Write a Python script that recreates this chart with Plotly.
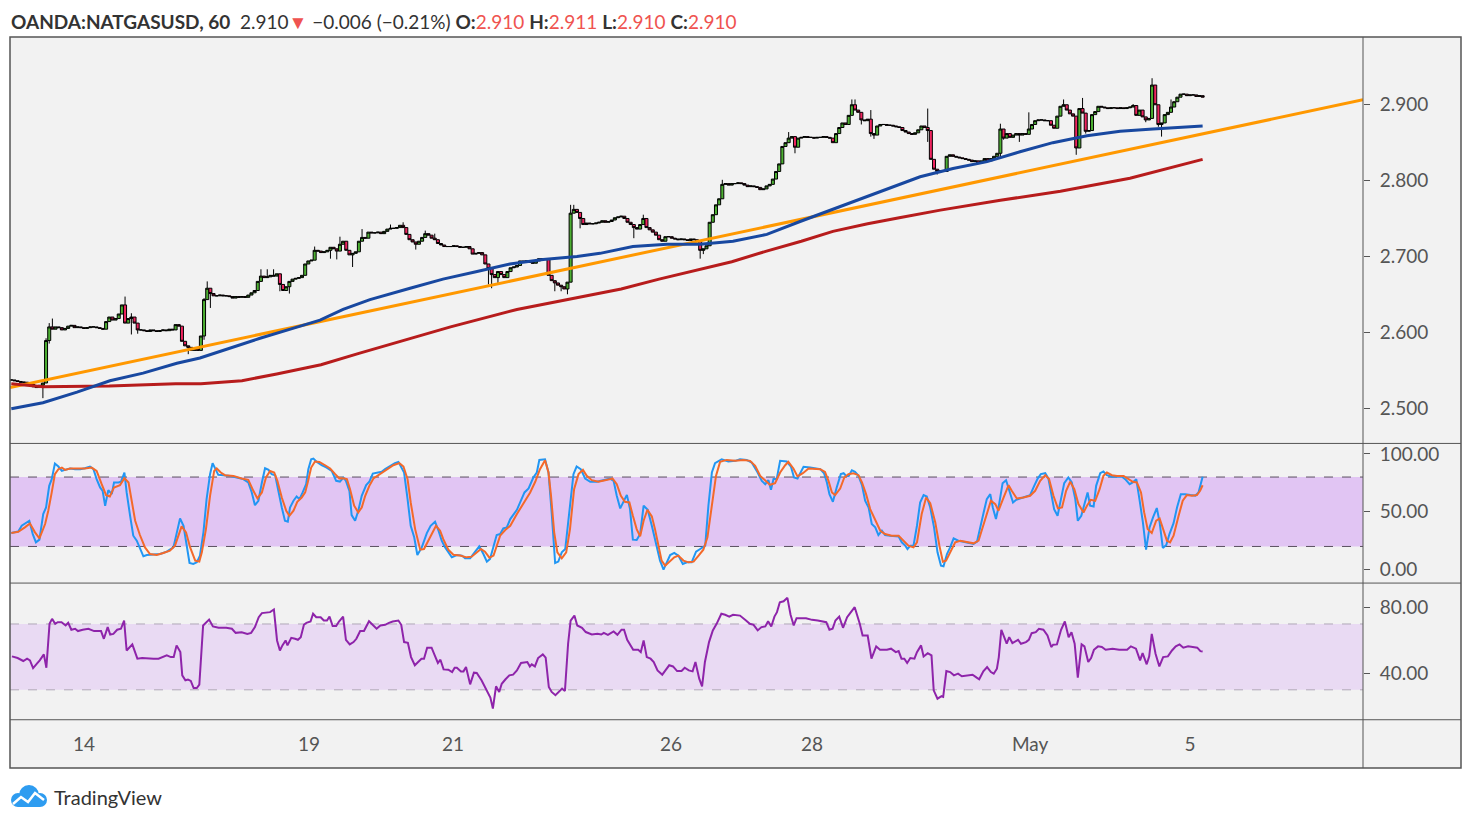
import plotly.graph_objects as go

W, H = 1471, 824
OFF = 8  # page body margin

# hourly closes of OANDA:NATGASUSD in thousandths, bar 0 = first bar on the chart
CLOSES = [
    2537, 2536, 2535, 2534, 2534, 2533, 2531, 2528, 2527, 2530,
    2533, 2589, 2607, 2604, 2607, 2606, 2603, 2605, 2608, 2609,
    2606, 2607, 2606, 2605, 2606, 2607, 2607, 2606, 2605, 2604,
    2614, 2620, 2616, 2618, 2624, 2636, 2612, 2618, 2620, 2612,
    2603, 2603, 2602, 2601, 2603, 2602, 2601, 2602, 2603, 2602,
    2604, 2603, 2610, 2608, 2588, 2582, 2580, 2576, 2578, 2576,
    2595, 2643, 2658, 2651, 2648, 2648, 2649, 2648, 2648, 2647,
    2645, 2647, 2646, 2647, 2646, 2649, 2652, 2655, 2667, 2674,
    2672, 2673, 2675, 2674, 2677, 2663, 2655, 2660, 2667, 2670,
    2671, 2672, 2675, 2690, 2694, 2695, 2708, 2707, 2705, 2706,
    2708, 2712, 2710, 2707, 2716, 2720, 2708, 2702, 2704, 2706,
    2720, 2725, 2724, 2732, 2731, 2731, 2732, 2730, 2733, 2736,
    2737, 2737, 2738, 2741, 2738, 2729, 2722, 2719, 2716, 2720,
    2725, 2730, 2728, 2724, 2722, 2717, 2715, 2713, 2713, 2713,
    2714, 2713, 2712, 2712, 2713, 2710, 2703, 2704, 2705, 2702,
    2690, 2684, 2676, 2672, 2680, 2676, 2672, 2680, 2685, 2686,
    2688, 2694, 2693, 2694, 2692, 2691, 2694, 2697, 2697, 2696,
    2675, 2668, 2665, 2662, 2660, 2657, 2666, 2757, 2762, 2758,
    2750, 2742, 2744, 2743, 2743, 2744, 2745, 2747, 2745, 2746,
    2748, 2751, 2752, 2753, 2750, 2745, 2742, 2738, 2736, 2742,
    2750, 2738, 2735, 2732, 2728, 2722, 2720, 2726, 2726, 2724,
    2723, 2722, 2723, 2722, 2721, 2723, 2722, 2720, 2708, 2710,
    2714, 2745, 2755, 2768, 2776, 2795, 2796, 2794, 2796, 2796,
    2797, 2796, 2794, 2792, 2793, 2792, 2791, 2788, 2789, 2793,
    2795, 2802, 2812, 2822, 2845, 2850, 2856, 2858, 2844, 2856,
    2857, 2858, 2857, 2857, 2856, 2857, 2857, 2858, 2857, 2856,
    2850, 2862, 2870, 2876, 2874, 2886, 2900, 2893, 2890, 2880,
    2879, 2881, 2862, 2860, 2872, 2874, 2874, 2873, 2873, 2872,
    2871, 2870, 2866, 2864, 2862, 2861, 2863, 2867, 2872, 2870,
    2866, 2828, 2815, 2812, 2813, 2812, 2832, 2834, 2832, 2831,
    2830, 2829, 2828, 2827, 2825, 2826, 2823, 2826, 2829, 2826,
    2829, 2832, 2836, 2868, 2856, 2862, 2857, 2860, 2862, 2860,
    2862, 2861, 2868, 2874, 2879, 2880, 2880, 2879, 2879, 2873,
    2869, 2885, 2898, 2900, 2893, 2888, 2885, 2843, 2895, 2889,
    2865, 2866, 2887, 2891, 2898, 2897, 2896, 2895, 2896, 2896,
    2895, 2896, 2895, 2896, 2897, 2899, 2886, 2893, 2884, 2880,
    2882, 2926, 2900, 2874, 2876, 2887, 2890, 2897, 2904, 2910,
    2914, 2914, 2912, 2913, 2913, 2911, 2912, 2910,
]

# visible wicks: bar -> (high, low)
WICKS = {
    10: (None, 2.513), 11: (2.592, None), 12: (2.612, 2.585), 13: (2.618, None),
    36: (2.647, None), 38: (2.625, 2.597), 40: (None, 2.598), 56: (None, 2.571),
    61: (2.645, 2.590), 62: (2.667, None), 63: (None, 2.632), 79: (2.683, None),
    81: (2.683, None), 83: (2.683, None), 85: (None, 2.654), 88: (None, 2.651),
    96: (2.713, None), 101: (None, 2.697), 103: (None, 2.696), 104: (2.726, None),
    108: (None, 2.686), 111: (2.736, None), 120: (2.742, None), 124: (2.745, None),
    128: (None, 2.709), 131: (2.734, None), 134: (2.730, None), 151: (None, 2.663),
    152: (None, 2.658), 154: (None, 2.665), 172: (None, 2.654), 174: (None, 2.654),
    176: (None, 2.650), 177: (2.768, None), 178: (2.768, None), 180: (None, 2.737),
    197: (None, 2.724), 200: (2.755, None), 218: (None, 2.697), 219: (None, 2.703),
    225: (2.801, None), 246: (2.864, None), 248: (None, 2.836), 266: (2.907, None),
    267: (2.907, None), 269: (None, 2.874), 272: (2.893, 2.858), 273: (None, 2.855),
    290: (2.895, 2.851), 293: (None, 2.808), 313: (2.875, 2.830), 314: (None, 2.854),
    319: (None, 2.851), 322: (2.890, None), 333: (2.907, None), 337: (None, 2.834),
    339: (2.909, None), 340: (None, 2.862), 355: (2.901, None), 359: (None, 2.877),
    361: (2.935, None), 363: (None, 2.871), 364: (None, 2.858), 367: (2.907, None),
}

# moving averages and trend line, (bar, price)
MA_BLUE = [
    (0, 2.499), (10, 2.507), (20.8, 2.521), (31.2, 2.536), (41.7, 2.546), (52.4, 2.559),
    (59.7, 2.566), (68.3, 2.578), (78.7, 2.592), (89.1, 2.605), (97.7, 2.616), (105, 2.630),
    (113.5, 2.643), (126.2, 2.658), (136.6, 2.670), (147.4, 2.680), (157.8, 2.690),
    (168.3, 2.696), (179, 2.700), (186.3, 2.704), (196.7, 2.713), (207.5, 2.716),
    (218, 2.716), (228.4, 2.720), (239.1, 2.729), (249.6, 2.746), (260, 2.762),
    (270.8, 2.779), (281.2, 2.795), (287.6, 2.805), (298, 2.816), (308.8, 2.825),
    (319.2, 2.838), (329.6, 2.850), (340.4, 2.859), (350.9, 2.865), (361.3, 2.868), (377, 2.872),
]
MA_RED = [
    (0, 2.532), (10, 2.528), (31, 2.529), (52, 2.532), (60, 2.532), (73, 2.536), (84, 2.545),
    (98, 2.557), (110, 2.572), (123, 2.588), (139, 2.607), (160, 2.630), (179, 2.645),
    (193, 2.657), (205, 2.670), (218, 2.683), (228, 2.693), (239, 2.707), (250, 2.720),
    (260, 2.733), (271, 2.743), (281, 2.751), (294, 2.761), (313, 2.774), (332, 2.786),
    (354, 2.803), (377, 2.828),
]
TREND = [(-0.41, 2.527), (427.75, 2.9066)]

# stochastic RSI %K and %D, (bar, value)
STOCH_K = [
    (0, 31.6), (1.2, 32.7), (2.2, 33.0), (3.3, 37.9), (4.3, 39.4), (5.7, 42.2), (6.8, 30.7), (7.8, 23.6), (8.9, 25.9), (10.1, 48.0),
    (11.0, 53.7), (12.0, 72.4), (12.8, 78.2), (13.8, 91.7), (14.9, 89.1), (16.0, 85.3), (17.0, 86.2), (18.6, 87.4), (20.2, 86.8), (21.8, 86.8),
    (23.3, 87.6), (24.9, 89.1), (26.0, 86.8), (27.0, 78.2), (28.1, 71.0), (28.9, 68.1), (29.7, 55.2), (30.7, 68.7), (31.8, 65.2), (32.5, 75.3),
    (33.9, 75.3), (34.7, 75.9), (35.8, 83.9), (36.5, 66.7), (37.6, 46.5), (38.6, 29.3), (39.7, 25.0), (40.7, 19.2), (41.8, 11.5), (42.9, 12.6),
    (45.0, 12.9), (47.1, 13.5), (49.2, 15.5), (51.3, 19.2), (52.4, 32.2), (53.4, 44.2), (54.5, 37.9), (55.5, 20.7), (56.4, 5.7), (57.6, 4.9),
    (58.7, 6.3), (59.7, 12.1), (60.8, 32.2), (61.8, 60.9), (62.9, 82.5), (63.7, 92.0), (64.5, 86.8), (65.5, 81.9), (67.1, 81.6), (69.2, 81.0),
    (71.3, 79.6), (73.4, 78.2), (75.0, 75.3), (76.1, 66.7), (77.1, 55.7), (78.2, 59.5), (79.3, 75.3), (80.3, 87.6), (81.4, 86.2), (82.4, 82.5),
    (83.5, 81.6), (84.5, 66.7), (85.6, 53.7), (86.6, 42.2), (87.5, 41.4), (88.2, 53.7), (89.3, 59.5), (90.3, 63.2), (91.2, 60.9), (92.2, 66.7),
    (93.3, 73.8), (94.0, 86.8), (94.9, 95.4), (95.6, 96.0), (96.7, 93.1), (98.2, 90.2), (99.8, 88.2), (101.4, 85.3), (102.8, 76.7), (104.0, 76.1),
    (105.1, 79.6), (105.9, 76.7), (107.0, 68.1), (107.7, 47.1), (108.8, 42.2), (109.8, 50.9), (110.9, 63.8), (112.3, 73.0), (113.3, 75.9), (114.4, 83.0),
    (115.6, 83.9), (117.2, 84.5), (118.3, 86.8), (119.9, 89.7), (121.4, 92.0), (122.5, 93.1), (123.2, 89.7), (124.3, 83.9), (125.4, 60.9), (126.4, 37.9),
    (127.5, 27.9), (128.5, 12.6), (129.9, 19.2), (131.5, 31.6), (132.7, 37.9), (134.1, 41.4), (135.2, 33.6), (136.2, 25.0), (137.3, 19.2), (138.3, 15.5),
    (139.4, 10.6), (141.0, 12.6), (142.6, 12.1), (143.6, 9.8), (145.2, 9.8), (146.8, 15.5), (148.1, 20.1), (149.4, 13.5), (150.5, 6.9), (151.5, 9.2),
    (152.6, 19.2), (153.6, 29.9), (154.7, 30.7), (155.7, 35.6), (156.8, 36.5), (157.9, 43.7), (160.0, 51.7), (161.0, 58.0), (162.4, 66.7), (163.7, 70.1),
    (165.2, 79.6), (166.3, 83.9), (167.1, 94.8), (168.9, 95.4), (170.0, 83.9), (171.0, 49.4), (172.1, 5.7), (173.1, 6.9), (174.2, 14.9), (175.3, 17.8),
    (176.8, 55.2), (177.9, 82.5), (178.9, 89.1), (180.2, 86.8), (181.6, 78.7), (183.2, 75.9), (185.3, 75.9), (187.4, 77.3), (189.5, 78.7), (190.6, 76.7),
    (191.6, 63.8), (192.7, 52.9), (193.7, 58.0), (194.8, 64.6), (195.8, 52.3), (196.7, 25.9), (197.9, 25.6), (199.0, 30.7), (200.1, 55.2), (201.4, 51.7),
    (202.7, 37.9), (204.3, 20.7), (205.3, 7.8), (206.4, 0.0), (207.4, 6.3), (208.5, 12.6), (209.8, 14.4), (211.1, 12.1), (212.5, 4.9), (213.8, 6.3),
    (215.3, 6.3), (216.7, 15.5), (218.0, 17.8), (219.6, 20.7), (220.6, 55.2), (221.7, 83.9), (222.7, 92.0), (224.8, 95.4), (226.9, 93.4), (229.1, 94.0),
    (230.6, 95.4), (232.7, 94.8), (234.3, 92.5), (235.9, 85.3), (237.5, 76.7), (238.6, 73.8), (239.6, 77.3), (240.4, 69.0), (241.2, 78.2), (242.2, 78.2),
    (243.3, 94.0), (245.4, 93.4), (246.7, 89.1), (247.7, 79.6), (248.8, 78.7), (250.7, 88.8), (252.8, 88.2), (256.0, 86.8), (257.2, 83.3), (258.1, 75.3),
    (258.9, 65.2), (260.0, 58.6), (261.2, 71.0), (262.5, 82.5), (263.4, 83.3), (264.2, 81.0), (265.0, 81.0), (266.0, 85.9), (267.0, 84.5), (268.1, 81.0),
    (269.2, 73.0), (270.2, 59.5), (271.3, 53.7), (272.3, 39.4), (273.4, 36.5), (274.4, 29.9), (275.5, 33.6), (276.5, 29.9), (278.1, 29.3), (279.7, 29.3),
    (280.8, 28.7), (281.8, 23.6), (282.9, 20.7), (283.6, 17.8), (284.5, 20.7), (285.5, 20.7), (286.6, 37.9), (287.6, 58.0), (288.7, 64.4), (289.7, 63.2),
    (290.8, 53.7), (292.0, 36.5), (293.1, 14.9), (294.2, 3.4), (295.0, 2.9), (296.1, 13.5), (297.1, 19.2), (298.2, 27.0), (299.7, 25.0), (301.3, 24.1),
    (302.9, 23.0), (304.5, 22.1), (305.6, 24.1), (306.6, 35.0), (307.7, 49.4), (308.7, 60.9), (309.8, 65.2), (310.6, 53.7), (311.6, 43.7), (312.6, 56.6),
    (313.7, 74.7), (314.8, 77.3), (315.9, 68.1), (317.0, 58.0), (318.0, 60.3), (319.3, 61.5), (320.8, 62.3), (322.4, 64.4), (323.7, 72.4), (324.8, 78.7),
    (325.8, 82.5), (327.2, 83.3), (328.2, 78.7), (329.0, 66.7), (330.0, 52.3), (331.1, 46.5), (332.1, 60.9), (333.2, 74.7), (334.5, 79.6), (335.6, 75.3),
    (336.7, 60.9), (337.5, 42.2), (338.6, 46.5), (339.5, 56.6), (340.6, 66.7), (341.4, 55.2), (342.5, 54.6), (343.3, 72.4), (344.6, 83.3), (345.6, 84.8),
    (346.7, 81.6), (348.3, 80.2), (349.9, 80.5), (351.4, 80.5), (352.5, 78.2), (353.9, 73.8), (354.9, 75.3), (356.0, 78.2), (357.0, 60.9), (358.1, 40.8),
    (359.1, 17.2), (360.2, 36.5), (361.3, 45.1), (362.5, 53.2), (363.4, 40.8), (364.4, 18.7), (365.5, 21.3), (366.5, 30.7), (367.8, 40.2), (368.9, 53.7),
    (370.1, 65.2), (371.5, 65.2), (373.1, 64.4), (374.7, 63.8), (375.7, 66.7), (376.4, 73.8), (377.0, 80.2),
]
STOCH_D = [
    (0, 31.6), (2.2, 32.7), (4.3, 36.5), (5.9, 39.9), (7.5, 32.2), (8.9, 27.0), (10.7, 39.4), (11.7, 50.9), (12.8, 66.7), (13.8, 82.5),
    (14.9, 86.8), (16.0, 88.2), (17.0, 86.2), (18.6, 87.4), (20.7, 87.4), (23.3, 87.4), (25.4, 88.2), (27.0, 85.3), (28.6, 73.8), (30.0, 64.4),
    (31.2, 63.2), (32.5, 71.0), (34.4, 73.0), (35.8, 79.0), (37.1, 75.3), (38.1, 60.9), (39.2, 42.2), (40.7, 29.9), (42.3, 19.2), (43.9, 13.5),
    (46.0, 12.6), (48.1, 14.4), (50.2, 16.4), (51.8, 20.7), (52.9, 29.3), (53.9, 37.3), (55.3, 32.2), (56.6, 19.2), (58.2, 7.8), (59.5, 6.9),
    (60.3, 14.9), (61.6, 35.0), (62.9, 63.8), (64.2, 85.3), (65.0, 87.4), (66.3, 83.9), (67.6, 81.6), (70.3, 81.0), (72.9, 78.7), (75.0, 77.6),
    (76.6, 68.1), (77.9, 61.5), (79.3, 66.7), (80.6, 79.6), (81.9, 85.3), (83.2, 83.9), (84.2, 76.7), (85.6, 62.3), (87.0, 50.9), (88.0, 46.5),
    (89.3, 50.9), (90.5, 58.6), (91.9, 62.3), (93.0, 66.7), (93.8, 75.3), (94.9, 88.2), (96.1, 93.4), (97.5, 93.1), (99.3, 90.2), (100.9, 87.4),
    (102.5, 82.5), (103.8, 78.7), (105.1, 79.0), (106.2, 78.2), (107.2, 69.5), (108.5, 55.2), (109.8, 49.4), (110.9, 53.7), (112.0, 63.8), (113.3, 72.4),
    (114.6, 78.7), (116.7, 82.5), (118.8, 86.2), (120.9, 90.2), (122.8, 92.0), (124.1, 89.1), (125.4, 78.2), (126.4, 58.0), (127.8, 35.0), (128.8, 22.1),
    (129.4, 17.2), (130.6, 17.8), (132.0, 25.0), (133.1, 31.6), (134.4, 37.9), (135.7, 33.6), (136.7, 26.4), (138.3, 17.2), (139.9, 12.9), (142.0, 12.1),
    (144.1, 10.6), (145.7, 11.2), (147.3, 14.9), (148.6, 17.8), (149.9, 15.5), (151.3, 10.3), (152.6, 12.1), (153.6, 20.7), (154.7, 29.3), (156.3, 34.2),
    (157.9, 37.9), (160.0, 48.0), (162.1, 57.5), (164.2, 66.7), (165.8, 75.9), (167.3, 86.8), (168.9, 94.5), (170.0, 83.9), (170.8, 63.8), (171.8, 32.2),
    (172.8, 14.9), (174.2, 9.8), (175.6, 14.9), (176.8, 35.0), (178.1, 69.5), (179.5, 82.5), (180.9, 86.2), (182.1, 81.0), (183.7, 77.3), (185.8, 75.9),
    (187.9, 77.3), (190.3, 78.7), (191.6, 73.8), (192.9, 63.8), (194.2, 58.6), (195.6, 58.0), (196.7, 46.5), (197.9, 35.0), (199.0, 28.7), (200.1, 42.2),
    (201.3, 51.7), (202.7, 46.0), (203.7, 35.0), (204.8, 20.7), (205.8, 7.8), (206.9, 3.4), (208.3, 6.9), (209.8, 10.6), (211.1, 12.1), (212.7, 7.8),
    (214.3, 6.3), (215.9, 6.9), (217.5, 12.1), (219.0, 17.2), (220.3, 27.9), (221.7, 55.2), (223.0, 81.0), (224.3, 93.1), (226.4, 94.8), (229.1, 94.0),
    (231.7, 94.8), (233.8, 94.0), (235.4, 89.7), (237.0, 81.0), (238.9, 76.7), (240.1, 73.3), (241.7, 74.7), (243.3, 83.9), (244.9, 90.2), (245.9, 93.1),
    (247.5, 87.4), (248.8, 80.5), (250.5, 83.3), (252.3, 87.4), (256.0, 86.8), (257.5, 84.5), (258.6, 76.7), (259.7, 66.7), (260.7, 64.4), (262.3, 70.1),
    (263.6, 79.6), (264.9, 82.5), (266.5, 83.3), (268.1, 81.6), (269.2, 75.3), (270.5, 65.2), (271.8, 52.3), (273.4, 42.2), (275.0, 33.6), (276.5, 30.7),
    (278.6, 29.3), (280.8, 29.3), (282.3, 25.0), (283.9, 20.7), (285.5, 19.2), (286.6, 23.6), (288.1, 48.0), (289.5, 62.3), (290.8, 57.5), (292.4, 40.8),
    (293.7, 20.7), (294.8, 6.9), (295.8, 7.8), (297.1, 14.9), (298.7, 23.6), (300.3, 25.0), (302.4, 23.6), (304.5, 22.7), (306.1, 25.0), (307.4, 36.5),
    (308.7, 48.0), (310.0, 59.5), (311.4, 56.6), (312.4, 50.9), (314.0, 62.3), (315.6, 73.0), (316.6, 68.1), (318.2, 61.5), (320.3, 62.3), (322.4, 63.8),
    (324.0, 68.1), (325.6, 76.7), (327.2, 81.6), (328.4, 78.2), (329.8, 63.8), (331.2, 52.9), (332.5, 53.7), (333.8, 68.1), (335.1, 75.9), (336.4, 69.5),
    (337.7, 56.6), (339.3, 49.4), (340.4, 55.2), (341.6, 60.3), (343.0, 59.5), (344.4, 69.5), (345.6, 81.0), (346.7, 83.9), (348.3, 81.6), (349.9, 81.0),
    (352.0, 81.0), (353.6, 78.2), (354.9, 75.9), (356.2, 75.3), (357.5, 66.7), (358.5, 49.4), (359.6, 35.0), (360.9, 31.6), (362.3, 42.2), (363.4, 44.2),
    (364.4, 35.0), (365.7, 25.0), (366.7, 23.6), (367.8, 29.3), (369.4, 46.5), (370.7, 59.5), (372.0, 64.4), (373.6, 63.8), (375.2, 64.4), (376.2, 68.1),
    (377.0, 72.9),
]

# RSI, (bar, value)
RSI = [
    (0.2, 50.3), (2.0, 49.3), (3.8, 47.5), (5.0, 48.9), (5.9, 47.9), (6.9, 43.2), (8.1, 45.9), (9.0, 47.9), (10.3, 51.5), (11.1, 43.4),
    (12.1, 70.1), (12.9, 73.1), (13.9, 70.1), (14.7, 71.1), (15.9, 71.1), (17.2, 69.1), (18.0, 70.7), (19.0, 66.5), (20.2, 67.1), (21.1, 65.7),
    (22.6, 66.5), (24.4, 67.1), (26.2, 65.7), (28.4, 65.7), (29.3, 61.0), (30.5, 68.1), (31.3, 63.6), (32.3, 64.0), (33.5, 66.5), (34.7, 67.1),
    (35.7, 72.1), (36.5, 53.9), (38.3, 57.6), (39.9, 48.9), (41.4, 49.3), (43.2, 48.9), (45.0, 48.9), (46.6, 48.9), (48.0, 49.9), (49.2, 50.9),
    (50.5, 49.9), (51.4, 49.9), (52.3, 57.0), (53.5, 52.9), (54.1, 38.8), (55.1, 35.8), (55.9, 36.2), (56.8, 35.4), (57.7, 31.1), (58.7, 31.1),
    (59.5, 33.1), (60.7, 69.1), (62.6, 72.7), (63.8, 68.5), (65.6, 67.7), (68.0, 67.7), (69.8, 67.1), (71.0, 64.6), (72.9, 65.0), (74.7, 64.0),
    (75.9, 64.6), (77.1, 68.1), (78.3, 74.1), (79.3, 76.6), (81.9, 77.2), (83.1, 78.8), (84.1, 60.0), (85.0, 53.9), (85.8, 57.0), (86.8, 60.0),
    (87.4, 57.0), (88.6, 61.6), (89.8, 61.0), (90.7, 60.4), (91.6, 62.0), (92.6, 69.5), (93.4, 70.7), (94.7, 71.5), (95.5, 76.2), (96.5, 74.1),
    (97.9, 74.1), (98.9, 72.1), (99.9, 72.1), (100.7, 74.5), (101.7, 68.7), (102.8, 68.7), (103.7, 71.5), (105.0, 74.5), (105.9, 60.4), (107.1, 57.6),
    (108.3, 59.0), (109.2, 61.0), (110.4, 65.7), (111.6, 65.7), (113.2, 71.7), (114.4, 69.5), (115.6, 67.1), (116.8, 69.1), (118.3, 69.5), (119.5, 70.7),
    (120.7, 71.5), (122.5, 72.1), (123.4, 69.5), (124.3, 59.0), (125.5, 58.6), (126.5, 49.9), (127.7, 44.9), (129.8, 48.9), (130.6, 48.9), (131.6, 55.6),
    (133.0, 55.6), (134.0, 50.9), (135.0, 46.3), (135.8, 48.3), (136.8, 42.4), (138.3, 42.2), (139.5, 40.8), (140.3, 43.4), (141.0, 43.4), (142.3, 41.2),
    (143.1, 41.2), (143.9, 43.8), (145.2, 33.3), (146.4, 40.4), (147.3, 40.2), (148.8, 35.8), (150.4, 29.7), (151.6, 25.3), (152.4, 18.6), (153.4, 32.1),
    (154.4, 28.7), (155.2, 33.7), (156.4, 36.4), (157.6, 38.8), (158.8, 39.2), (160.0, 41.8), (161.3, 46.3), (162.5, 46.9), (163.3, 46.9), (164.1, 44.2),
    (164.7, 45.5), (165.7, 44.2), (166.7, 49.3), (168.2, 51.5), (169.1, 49.5), (170.1, 31.7), (171.0, 28.7), (172.2, 26.7), (173.4, 29.3), (174.3, 30.7),
    (175.2, 29.3), (176.2, 58.0), (177.0, 72.1), (178.2, 75.1), (179.1, 69.1), (180.6, 67.7), (181.8, 65.1), (183.7, 63.6), (185.5, 64.0), (186.7, 63.6),
    (187.5, 64.6), (188.8, 63.4), (190.6, 65.5), (191.8, 63.4), (193.1, 66.5), (193.9, 66.5), (194.9, 60.4), (196.8, 54.3), (198.4, 54.3), (199.2, 52.9),
    (200.1, 60.0), (201.1, 49.9), (202.3, 48.9), (203.3, 46.9), (204.5, 41.8), (206.0, 39.2), (207.0, 41.8), (208.2, 44.9), (209.4, 44.2), (210.7, 41.4),
    (212.1, 41.4), (213.1, 43.4), (214.4, 41.8), (215.6, 41.2), (216.5, 46.9), (217.7, 36.8), (218.6, 32.1), (219.5, 46.9), (220.8, 59.0), (222.0, 66.1),
    (223.2, 70.1), (224.7, 76.2), (225.9, 75.6), (227.2, 74.5), (228.4, 75.6), (230.6, 75.1), (232.5, 72.1), (233.7, 70.1), (234.9, 69.5), (236.2, 66.1),
    (237.4, 68.1), (238.6, 68.5), (239.5, 71.7), (240.5, 68.5), (241.5, 74.5), (242.3, 77.2), (243.2, 83.2), (244.4, 83.8), (245.6, 85.9), (246.6, 75.6),
    (247.6, 69.1), (248.5, 73.5), (251.5, 73.5), (253.4, 72.5), (255.2, 72.1), (257.1, 71.5), (257.9, 71.1), (258.9, 66.5), (259.9, 67.1), (260.8, 72.1),
    (262.0, 74.5), (263.2, 67.7), (264.5, 74.1), (265.7, 77.2), (266.9, 80.2), (268.5, 70.1), (269.4, 63.0), (271.0, 63.0), (272.2, 48.9), (273.7, 56.4),
    (274.9, 54.3), (277.1, 54.3), (278.4, 55.0), (279.9, 52.9), (280.8, 53.5), (281.7, 48.9), (282.6, 48.9), (283.5, 46.3), (284.5, 49.3), (285.8, 48.9),
    (286.6, 52.9), (287.9, 57.0), (288.7, 50.3), (290.0, 52.3), (291.2, 50.9), (291.9, 29.7), (293.1, 24.6), (294.4, 26.1), (294.9, 25.7), (295.9, 41.4),
    (297.1, 40.8), (298.3, 38.8), (299.6, 39.8), (300.8, 38.2), (302.6, 38.8), (304.2, 39.2), (305.5, 37.4), (306.3, 36.4), (307.6, 41.2), (308.8, 43.8),
    (310.0, 40.8), (310.9, 39.8), (311.9, 42.8), (312.5, 49.9), (313.3, 66.5), (315.0, 58.0), (315.8, 62.0), (316.8, 58.4), (318.6, 60.4), (319.5, 58.0),
    (321.1, 59.0), (322.0, 60.4), (322.9, 64.4), (324.2, 65.0), (325.2, 67.1), (326.6, 66.5), (327.9, 63.0), (329.1, 56.0), (329.7, 57.4), (330.9, 57.6),
    (332.2, 66.5), (333.4, 71.5), (334.6, 62.0), (335.5, 65.0), (336.5, 58.0), (337.5, 37.4), (338.7, 57.6), (339.6, 56.4), (340.8, 46.9), (341.7, 49.3),
    (342.6, 54.3), (343.9, 56.4), (345.1, 56.0), (346.3, 54.3), (348.5, 55.0), (350.6, 54.3), (353.1, 54.3), (354.3, 56.4), (355.9, 55.0), (357.2, 47.9),
    (358.0, 52.3), (359.3, 45.5), (360.1, 50.3), (360.9, 64.0), (362.1, 51.9), (363.3, 44.2), (364.5, 49.9), (366.0, 50.3), (367.3, 53.9), (368.5, 56.4),
    (369.7, 57.6), (370.9, 55.6), (372.4, 56.4), (374.0, 56.0), (375.3, 55.6), (376.3, 53.5), (377.0, 53.3),
]

DATE_TICKS = [23.0, 94.2, 139.8, 208.8, 253.4, 322.4, 373.0]
DATE_LABELS = ["14", "19", "21", "26", "28", "May", "5"]
PRICE_TICKS = [2.5, 2.6, 2.7, 2.8, 2.9]
STOCH_TICKS = [0, 50, 100]
RSI_TICKS = [40, 80]

SYMBOL = "OANDA:NATGASUSD, 60"
LAST, CHANGE, CHANGE_PCT = "2.910", "−0.006", "−0.21%"
OHLC = [("O", "2.910"), ("H", "2.911"), ("L", "2.910"), ("C", "2.910")]

FW, FH = W - 2 * OFF, H - 2 * OFF


def px(x):
    return (x - OFF) / FW


def py(y):
    return 1 - (y - OFF) / FH


closes = [c / 1000 for c in CLOSES]
opens = [closes[0]] + closes[:-1]
highs = [max(o, c) for o, c in zip(opens, closes)]
lows = [min(o, c) for o, c in zip(opens, closes)]
for i, (hi, lo) in WICKS.items():
    if hi:
        highs[i] = max(highs[i], hi)
    if lo:
        lows[i] = min(lows[i], lo)
bars = list(range(len(closes)))

fig = go.Figure()

# price pane
for pts, color in [(TREND, "#ff9800"), (MA_RED, "#b71c1c"), (MA_BLUE, "#1848a0")]:
    fig.add_trace(go.Scatter(x=[p[0] for p in pts], y=[p[1] for p in pts], mode="lines",
                             line=dict(color=color, width=3), xaxis="x", yaxis="y", hoverinfo="skip"))
fig.add_trace(go.Candlestick(
    x=bars, open=opens, high=highs, low=lows, close=closes, xaxis="x", yaxis="y",
    increasing=dict(fillcolor="#4caf32", line=dict(color="#000000", width=1)),
    decreasing=dict(fillcolor="#f0245f", line=dict(color="#000000", width=1)),
    whiskerwidth=0,
))

# stoch rsi pane
for pts, color in [(STOCH_K, "#2196f3"), (STOCH_D, "#f4692a")]:
    fig.add_trace(go.Scatter(x=[p[0] for p in pts], y=[p[1] for p in pts], mode="lines",
                             line=dict(color=color, width=2), xaxis="x", yaxis="y2", hoverinfo="skip"))

# rsi pane
fig.add_trace(go.Scatter(x=[p[0] for p in RSI], y=[p[1] for p in RSI], mode="lines",
                         line=dict(color="#8e24aa", width=2), xaxis="x", yaxis="y3", hoverinfo="skip"))

axis_font = dict(family="Lato", size=19, color="#555555")
yax = dict(side="right", anchor="x", showgrid=False, zeroline=False, showline=False,
           ticks="outside", ticklen=6, tickcolor="#555555", tickfont=axis_font,
           ticklabelstandoff=6, fixedrange=True)

fig.update_layout(
    width=FW, height=FH, margin=dict(l=0, r=0, t=0, b=0),
    paper_bgcolor="#ffffff", plot_bgcolor="#f2f2f2", showlegend=False,
    boxgap=0.05, boxgroupgap=0,
    xaxis=dict(domain=[px(10), px(1363)], range=[-0.41, 427.75], anchor="y3",
               showgrid=False, zeroline=False, showline=False, rangeslider=dict(visible=False),
               tickvals=DATE_TICKS, ticktext=DATE_LABELS, ticks="", tickfont=axis_font,
               ticklabelstandoff=12),
    yaxis=dict(yax, domain=[py(442), py(35)], range=[2.45395, 2.98947],
               tickvals=PRICE_TICKS, tickformat=".3f"),
    yaxis2=dict(yax, domain=[py(582), py(443)], range=[-11.21, 108.62],
                tickvals=STOCH_TICKS, tickformat=".2f"),
    yaxis3=dict(yax, domain=[py(719), py(583)], range=[12.12, 94.55],
                tickvals=RSI_TICKS, tickformat=".2f"),
)

shapes = [
    # chart background
    dict(type="rect", xref="paper", yref="paper", x0=px(10), x1=px(1461), y0=py(768), y1=py(35),
         fillcolor="#f2f2f2", line=dict(width=0), layer="below"),
    # bands
    dict(type="rect", xref="x domain", yref="y2", x0=0, x1=1, y0=20, y1=80,
         fillcolor="#e1c5f3", line=dict(width=0), layer="below"),
    dict(type="rect", xref="x domain", yref="y3", x0=0, x1=1, y0=30, y1=70,
         fillcolor="#e9daf3", line=dict(width=0), layer="below"),
]
for lvl in (20, 80):
    shapes.append(dict(type="line", xref="x domain", yref="y2", x0=0, x1=1, y0=lvl, y1=lvl,
                       line=dict(color="#5a5060", width=1, dash="dash"), layer="below"))
for lvl in (30, 70):
    shapes.append(dict(type="line", xref="x domain", yref="y3", x0=0, x1=1, y0=lvl, y1=lvl,
                       line=dict(color="#b0a8b8", width=1, dash="dash"), layer="below"))
# frame and pane separators
for y in (442.5, 582.5, 719.5):
    shapes.append(dict(type="line", xref="paper", yref="paper", x0=px(10), x1=px(1461), y0=py(y), y1=py(y),
                       line=dict(color="#555555", width=1)))
shapes.append(dict(type="line", xref="paper", yref="paper", x0=px(1363), x1=px(1363), y0=py(768), y1=py(35),
                   line=dict(color="#555555", width=1)))
shapes.append(dict(type="rect", xref="paper", yref="paper", x0=px(10), x1=px(1461), y0=py(768), y1=py(35),
                   line=dict(color="#555555", width=1.5)))

# tradingview logo mark
logo_blue = "#2e9cf0"
for cx, cy, r in [(29, 795, 10), (18, 800, 7), (40, 800, 7)]:
    shapes.append(dict(type="circle", xref="paper", yref="paper", x0=px(cx - r), x1=px(cx + r),
                       y0=py(cy + r), y1=py(cy - r), fillcolor=logo_blue, line=dict(width=0)))
shapes.append(dict(type="rect", xref="paper", yref="paper", x0=px(18), x1=px(40), y0=py(807), y1=py(799),
                   fillcolor=logo_blue, line=dict(width=0)))
wave = [(13, 804), (21, 797), (28, 802), (35, 793), (44, 800)]
path = "M " + " L ".join(f"{px(x):.5f},{py(y):.5f}" for x, y in wave)
shapes.append(dict(type="path", xref="paper", yref="paper", path=path,
                   line=dict(color="#ffffff", width=2.5)))
fig.update_layout(shapes=shapes)

red = "#ef5350"
ohlc_txt = " ".join(f"<b>{k}:</b><span style='color:{red}'>{v}</span>" for k, v in OHLC)
header = (f"<b>{SYMBOL}</b>  {LAST}<span style='color:{red}'>▼</span> "
          f"{CHANGE} ({CHANGE_PCT}) {ohlc_txt}")
fig.add_annotation(x=px(10), y=py(20), xref="paper", yref="paper", xanchor="left", yanchor="middle",
                   text=header, showarrow=False, borderpad=0,
                   font=dict(family="Lato", size=19, color="#333333"))
fig.add_annotation(x=px(52), y=py(797), xref="paper", yref="paper", xanchor="left", yanchor="middle",
                   text="TradingView", showarrow=False, font=dict(family="Lato", size=20, color="#333333"))

fig.write_html("out.html")
